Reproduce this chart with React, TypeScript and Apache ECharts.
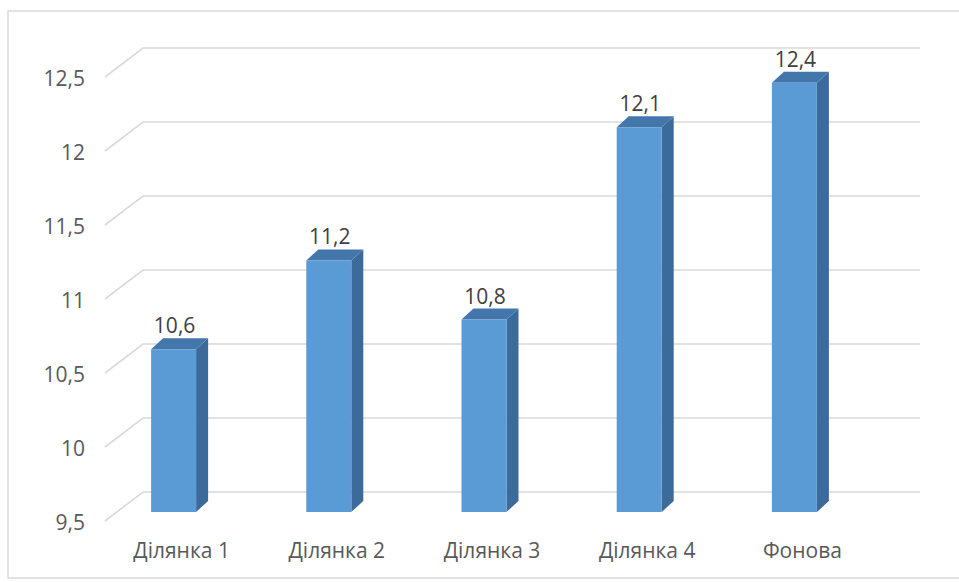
import React, { useEffect, useRef } from "react";
import * as echarts from "echarts";

const categories = ["Ділянка 1", "Ділянка 2", "Ділянка 3", "Ділянка 4", "Фонова"];
const values = [10.6, 11.2, 10.8, 12.1, 12.4];
const yTicks = [9.5, 10, 10.5, 11, 11.5, 12, 12.5];
const yMin = 9.5;
const yMax = 12.5;
const yStep = 0.5;

const FONT = '"Open Sans", "Noto Sans", sans-serif';
const fmt = (v: number) => String(v).replace(".", ",");

export default function App() {
  const ref = useRef<HTMLDivElement>(null);
  useEffect(() => {
    if (!ref.current) return;
    const chart = echarts.init(ref.current, undefined, { renderer: "svg" });
    const option: any = {
      animation: false,
      backgroundColor: "#ffffff",
      graphic: [
        {
          type: "rect",
          shape: { x: 8, y: 11, width: 980, height: 567 },
          style: { fill: "none", stroke: "#d9d9d9", lineWidth: 1.5 },
          silent: true,
        },
      ],
      grid: { left: 96, right: 87, top: 68, bottom: 70 },
      xAxis: {
        type: "category",
        data: categories,
        axisLine: { show: false },
        axisTick: { show: false },
        splitLine: { show: false },
        axisLabel: {
          margin: 27,
          color: "#595959",
          fontSize: 21,
          fontFamily: FONT,
          padding: [0, 0, 0, 16],
        },
      },
      yAxis: {
        type: "value",
        min: yMin,
        max: yMax,
        interval: yStep,
        axisLine: { show: false },
        axisTick: { show: false },
        splitLine: { show: false },
        axisLabel: {
          margin: 11,
          color: "#595959",
          fontSize: 21,
          fontFamily: FONT,
          verticalAlign: "top",
          lineHeight: 20,
          formatter: (v: number) => fmt(v),
        },
      },
      series: [
        {
          type: "custom",
          name: "grid",
          silent: true,
          z: 1,
          data: yTicks.map((v) => [0, v]),
          renderItem: (params: any, api: any) => {
            const cs = params.coordSys;
            const p = api.coord([0, api.value(1)]);
            const y = p[1];
            return {
              type: "polyline",
              shape: {
                points: [
                  [cs.x + 9, y + 9],
                  [cs.x + 47, y - 20],
                  [cs.x + cs.width + 48, y - 20],
                ],
              },
              style: { stroke: "#d9d9d9", lineWidth: 1.6, fill: "none" },
            };
          },
        },
        {
          type: "custom",
          name: "bars",
          z: 2,
          data: values.map((v, i) => [i, v]),
          renderItem: (params: any, api: any) => {
            const i = api.value(0);
            const v = api.value(1);
            const top = api.coord([i, v]);
            const base = api.coord([i, yMin]);
            const w = 45;
            const dx = 12;
            const dy = 11;
            const xl = top[0] - w / 2;
            const xr = top[0] + w / 2;
            const yt = top[1];
            const yb = base[1];
            return {
              type: "group",
              children: [
                {
                  type: "polygon",
                  shape: {
                    points: [
                      [xr, yt],
                      [xr + dx, yt - dy],
                      [xr + dx, yb - dy],
                      [xr, yb],
                    ],
                  },
                  style: { fill: "#3c6a9b" },
                },
                {
                  type: "polygon",
                  shape: {
                    points: [
                      [xl, yt],
                      [xr, yt],
                      [xr + dx, yt - dy],
                      [xl + dx, yt - dy],
                    ],
                  },
                  style: { fill: "#4376ab" },
                },
                {
                  type: "rect",
                  shape: { x: xl, y: yt, width: w, height: yb - yt },
                  style: { fill: "#5b9bd5" },
                },
                {
                  type: "text",
                  x: top[0] + 1,
                  y: yt - 24,
                  style: {
                    text: fmt(v),
                    fill: "#404040",
                    fontSize: 21,
                    fontFamily: FONT,
                    align: "center",
                    verticalAlign: "middle",
                  },
                },
              ],
            };
          },
        },
      ],
    };
    chart.setOption(option);
    return () => chart.dispose();
  }, []);
  return (
    <div
      ref={ref}
      style={{ position: "fixed", left: 0, top: 0, width: 959, height: 582 }}
    />
  );
}
